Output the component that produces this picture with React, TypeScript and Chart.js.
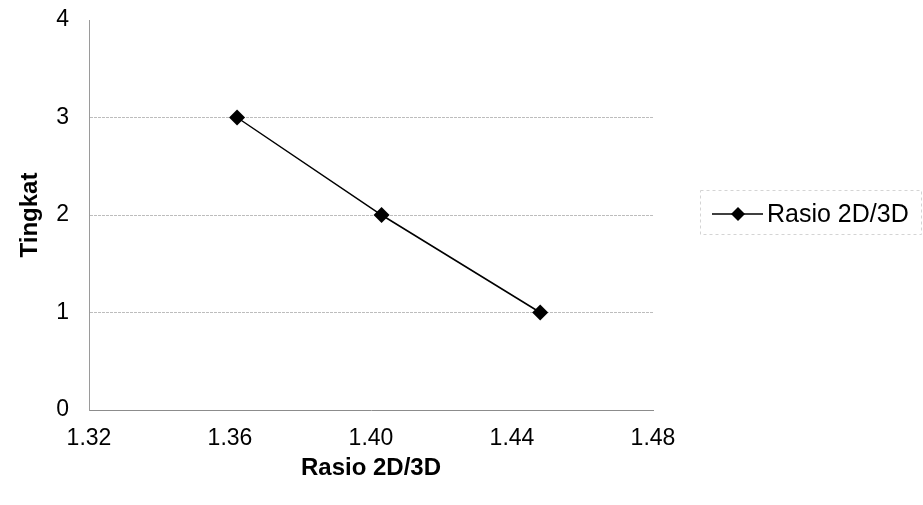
import React, { useEffect, useRef } from "react";
import { Chart, registerables } from "chart.js";

Chart.register(...registerables);

// ---- data ----
const seriesLabel = "Rasio 2D/3D";
const xValues = [1.362, 1.403, 1.448];
const yValues = [3, 2, 1];
const xAxisTitle = "Rasio 2D/3D";
const yAxisTitle = "Tingkat";
const xMin = 1.32;
const xMax = 1.48;
const xStep = 0.04;
const yMin = 0;
const yMax = 4;
const yStep = 1;

const FONT = "'Liberation Sans', Arial, sans-serif";

const legendPlugin = {
  id: "customLegend",
  afterDraw(chart: any) {
    const ctx = chart.ctx as CanvasRenderingContext2D;
    ctx.save();
    // faint legend frame
    ctx.strokeStyle = "#d4d4d4";
    ctx.lineWidth = 1;
    ctx.setLineDash([3, 3]);
    ctx.strokeRect(700.5, 190.5, 221, 44);
    ctx.setLineDash([]);
    // sample line
    const y = 214;
    ctx.strokeStyle = "#000";
    ctx.lineWidth = 1.5;
    ctx.beginPath();
    ctx.moveTo(712, y);
    ctx.lineTo(763, y);
    ctx.stroke();
    // diamond
    const cx = 738;
    const r = 7;
    ctx.fillStyle = "#000";
    ctx.beginPath();
    ctx.moveTo(cx, y - r);
    ctx.lineTo(cx + r, y);
    ctx.lineTo(cx, y + r);
    ctx.lineTo(cx - r, y);
    ctx.closePath();
    ctx.fill();
    // text
    ctx.font = `25px ${FONT}`;
    ctx.textBaseline = "middle";
    ctx.textAlign = "left";
    ctx.fillText(seriesLabel, 767, y + 1);
    ctx.restore();
  },
};

export default function App() {
  const canvasRef = useRef<HTMLCanvasElement | null>(null);

  useEffect(() => {
    if (!canvasRef.current) return;
    const data = xValues.map((x, i) => ({ x, y: yValues[i] }));
    const chart = new Chart(canvasRef.current, {
      type: "line",
      data: {
        datasets: [
          {
            label: seriesLabel,
            data,
            borderColor: "#000",
            backgroundColor: "#000",
            borderWidth: 1.5,
            pointStyle: "rectRot",
            pointRadius: 8,
            pointBackgroundColor: "#000",
            pointBorderColor: "#000",
            pointBorderWidth: 0,
            tension: 0,
            fill: false,
          },
        ],
      },
      options: {
        responsive: false,
        animation: false,
        layout: { padding: { left: 0, right: 270, top: 20, bottom: 0 } },
        plugins: {
          legend: { display: false },
          tooltip: { enabled: false },
        },
        scales: {
          x: {
            type: "linear",
            min: xMin,
            max: xMax,
            ticks: {
              stepSize: xStep,
              color: "#000",
              font: { family: FONT, size: 23 },
              padding: 15,
              maxRotation: 0,
              callback: (v: any) => Number(v).toFixed(2),
            },
            grid: { display: false, drawTicks: false },
            border: { display: true, color: "#8c8c8c", width: 1 },
            title: {
              display: true,
              text: xAxisTitle,
              color: "#000",
              font: { family: FONT, size: 24, weight: "bold" },
              padding: { top: 0, bottom: 22 },
            },
            afterFit: (scale: any) => {
              scale.height = 95;
            },
          },
          y: {
            type: "linear",
            min: yMin,
            max: yMax,
            ticks: {
              stepSize: yStep,
              color: "#000",
              font: { family: FONT, size: 23 },
              padding: 20,
            },
            grid: {
              drawTicks: false,
              color: (c: any) =>
                c.tick && (c.tick.value === yMax || c.tick.value === yMin)
                  ? "rgba(0,0,0,0)"
                  : "#bdbdbd",
              lineWidth: 1,
            },
            border: { display: true, color: "#9a9a9a", width: 1, dash: [3, 1] },
            title: {
              display: true,
              text: yAxisTitle,
              color: "#000",
              font: { family: FONT, size: 24, weight: "bold" },
              padding: { top: 16, bottom: 0 },
            },
            afterFit: (scale: any) => {
              scale.width = 89;
              scale.paddingTop = 0;
              scale.paddingBottom = 0;
            },
          },
        },
      },
      plugins: [legendPlugin],
    });
    return () => chart.destroy();
  }, []);

  return (
    <div style={{ position: "absolute", left: 0, top: 0, width: 923, height: 505, background: "#fff" }}>
      <canvas ref={canvasRef} width={923} height={505} />
    </div>
  );
}
